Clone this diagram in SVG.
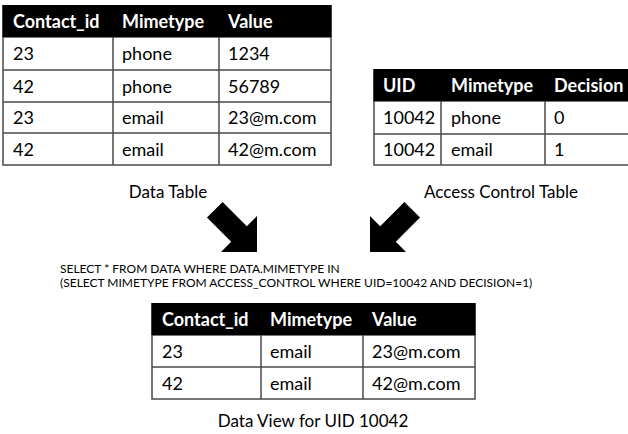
<svg xmlns="http://www.w3.org/2000/svg" width="628" height="434" viewBox="0 0 628 434">
<style>
.hdr{fill:#000}
.cell{fill:#fff;stroke:#4a4a4a;stroke-width:1.5}
.ln{stroke:#4a4a4a;stroke-width:1.5}
.th{font-family:Lato,"Open Sans",sans-serif;font-weight:bold;font-size:18px;fill:#fff}
.td{font-family:Lato,"Open Sans",sans-serif;font-size:18px;fill:#000}
.cap{font-family:Lato,"Open Sans",sans-serif;font-size:17px;fill:#000}
.sql{font-family:Lato,"Open Sans",sans-serif;font-size:12px;fill:#000}
.arrow{fill:#000}
</style>
<defs>
<polygon id="arr" points="222.6,202 246.8,226.2 257,216 257,252 221,252 231.2,241.8 207,217.6"/>
</defs>
<rect width="628" height="434" fill="#fff"/>

<g id="data-table">
<rect class="cell" x="3" y="37" width="328" height="128"/>
<rect class="hdr" x="2.25" y="5" width="329.5" height="32"/>
<line class="ln" x1="3" y1="70" x2="331" y2="70"/>
<line class="ln" x1="3" y1="102" x2="331" y2="102"/>
<line class="ln" x1="3" y1="133" x2="331" y2="133"/>
<line class="ln" x1="113" y1="37" x2="113" y2="165"/>
<line class="ln" x1="219" y1="37" x2="219" y2="165"/>
<text class="th" x="13" y="27.5">Contact_id</text>
<text class="th" x="122" y="27.5">Mimetype</text>
<text class="th" x="228" y="27.5">Value</text>
<text class="td" x="13" y="60">23</text><text class="td" x="122" y="60">phone</text><text class="td" x="228" y="60">1234</text>
<text class="td" x="13" y="92.5">42</text><text class="td" x="122" y="92.5">phone</text><text class="td" x="228" y="92.5">56789</text>
<text class="td" x="13" y="124">23</text><text class="td" x="122" y="124">email</text><text class="td" x="228" y="124">23@m.com</text>
<text class="td" x="13" y="155.5">42</text><text class="td" x="122" y="155.5">email</text><text class="td" x="228" y="155.5">42@m.com</text>
</g>

<g id="access-control-table">
<rect class="cell" x="374" y="101" width="270" height="64"/>
<rect class="hdr" x="373.25" y="69" width="260" height="32"/>
<line class="ln" x1="374" y1="134" x2="628" y2="134"/>
<line class="ln" x1="441" y1="101" x2="441" y2="165"/>
<line class="ln" x1="545" y1="101" x2="545" y2="165"/>
<text class="th" x="383" y="91.5">UID</text>
<text class="th" x="451" y="91.5">Mimetype</text>
<text class="th" x="554" y="91.5">Decision</text>
<text class="td" x="383" y="124">10042</text><text class="td" x="451" y="124">phone</text><text class="td" x="554" y="124">0</text>
<text class="td" x="383" y="156">10042</text><text class="td" x="451" y="156">email</text><text class="td" x="554" y="156">1</text>
</g>

<g id="data-view">
<rect class="cell" x="152" y="335" width="323" height="64"/>
<rect class="hdr" x="151.25" y="303" width="324.5" height="32"/>
<line class="ln" x1="152" y1="367" x2="475" y2="367"/>
<line class="ln" x1="261" y1="335" x2="261" y2="399"/>
<line class="ln" x1="363" y1="335" x2="363" y2="399"/>
<text class="th" x="162" y="325.5">Contact_id</text>
<text class="th" x="270" y="325.5">Mimetype</text>
<text class="th" x="372" y="325.5">Value</text>
<text class="td" x="162" y="357.5">23</text><text class="td" x="270" y="357.5">email</text><text class="td" x="372" y="357.5">23@m.com</text>
<text class="td" x="162" y="389.5">42</text><text class="td" x="270" y="389.5">email</text><text class="td" x="372" y="389.5">42@m.com</text>
</g>

<g id="labels">
<text class="cap" x="168" y="198" text-anchor="middle">Data Table</text>
<text class="cap" x="501" y="198" text-anchor="middle">Access Control Table</text>
<text class="sql" x="60" y="273">SELECT * FROM DATA WHERE DATA.MIMETYPE IN</text>
<text class="sql" x="60" y="287">(SELECT MIMETYPE FROM ACCESS_CONTROL WHERE UID=10042 AND DECISION=1)</text>
<text class="cap" x="313" y="427" text-anchor="middle">Data View for UID 10042</text>
</g>

<g id="connectors">
<use href="#arr" class="arrow"/>
<use href="#arr" class="arrow" transform="translate(627,0) scale(-1,1)"/>
</g>
</svg>
